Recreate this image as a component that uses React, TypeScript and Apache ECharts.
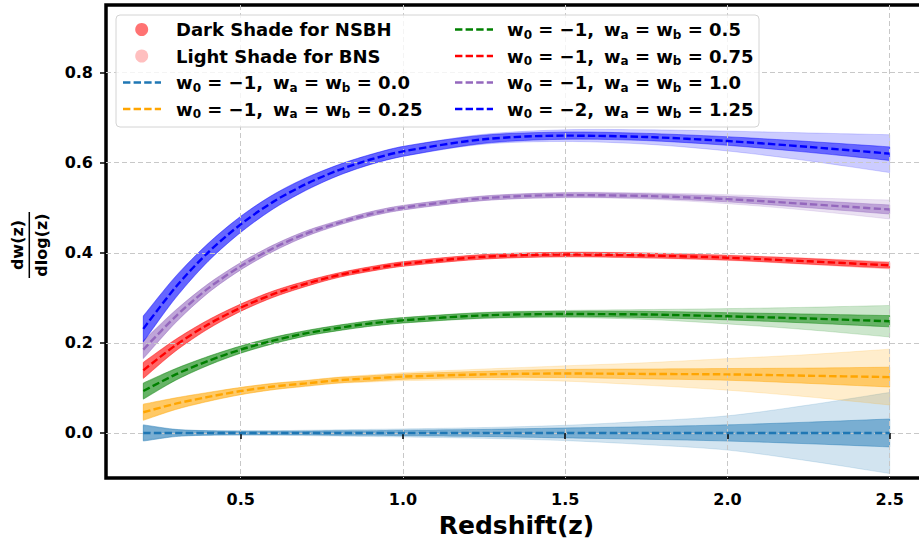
import React, { useEffect, useRef } from 'react';
import * as echarts from 'echarts';

const FONT = 'DejaVu Sans';

// Redshift sample points
const redshift = [0.2, 0.3, 0.4, 0.5, 0.6, 0.7, 0.8, 0.9, 1.0, 1.25, 1.5, 1.75, 2.0, 2.25, 2.5];
const xTicks = [0.5, 1.0, 1.5, 2.0, 2.5];
const yTicks = [0.0, 0.2, 0.4, 0.6, 0.8];

// Mean dw/dlog(z) curves
const mean00 = [0, 0, 0, 0, 0, 0, 0, 0, 0, 0, 0, 0, 0, 0, 0];
const mean025 = [0.046, 0.065, 0.080, 0.093, 0.103, 0.110, 0.117, 0.121, 0.125, 0.130, 0.132, 0.131, 0.130, 0.127, 0.124];
const mean05 = [0.093, 0.130, 0.160, 0.185, 0.205, 0.221, 0.233, 0.243, 0.250, 0.261, 0.264, 0.263, 0.259, 0.254, 0.248];
const mean075 = [0.139, 0.195, 0.241, 0.278, 0.308, 0.331, 0.350, 0.364, 0.375, 0.391, 0.396, 0.394, 0.389, 0.381, 0.372];
const mean10 = [0.185, 0.259, 0.321, 0.370, 0.410, 0.442, 0.466, 0.486, 0.500, 0.521, 0.528, 0.526, 0.519, 0.508, 0.496];
const mean125 = [0.231, 0.324, 0.401, 0.463, 0.513, 0.552, 0.583, 0.607, 0.625, 0.652, 0.660, 0.657, 0.648, 0.635, 0.620];

// Half-widths of the dark (NSBH) bands
const nsbh00 = [0.018, 0.008, 0.005, 0.004, 0.004, 0.004, 0.005, 0.005, 0.006, 0.008, 0.011, 0.014, 0.018, 0.024, 0.031];
const nsbh025 = [0.018, 0.013, 0.010, 0.008, 0.007, 0.006, 0.006, 0.006, 0.006, 0.007, 0.009, 0.011, 0.013, 0.017, 0.022];
const nsbh05 = [0.018, 0.013, 0.010, 0.008, 0.007, 0.006, 0.006, 0.006, 0.006, 0.006, 0.006, 0.007, 0.008, 0.010, 0.0125];
const nsbh075 = [0.018, 0.013, 0.010, 0.008, 0.007, 0.006, 0.005, 0.005, 0.005, 0.005, 0.005, 0.005, 0.005, 0.006, 0.006];
const nsbh10 = [0.020, 0.014, 0.010, 0.008, 0.007, 0.006, 0.005, 0.005, 0.005, 0.005, 0.005, 0.005, 0.006, 0.008, 0.010];
const nsbh125 = [0.029, 0.024, 0.020, 0.018, 0.016, 0.014, 0.012, 0.011, 0.011, 0.009, 0.008, 0.008, 0.0095, 0.012, 0.015];

// Half-widths of the light (BNS) bands
const bns00 = [0.016, 0.007, 0.005, 0.005, 0.005, 0.006, 0.007, 0.008, 0.009, 0.012, 0.017, 0.026, 0.038, 0.062, 0.090];
const bns025 = [0.016, 0.012, 0.009, 0.008, 0.007, 0.007, 0.007, 0.008, 0.009, 0.012, 0.017, 0.025, 0.035, 0.047, 0.062];
const bns05 = [0.016, 0.012, 0.009, 0.008, 0.007, 0.006, 0.006, 0.006, 0.006, 0.007, 0.008, 0.011, 0.017, 0.025, 0.035];
const bns075 = [0.016, 0.012, 0.009, 0.008, 0.007, 0.006, 0.005, 0.005, 0.005, 0.005, 0.005, 0.006, 0.006, 0.007, 0.008];
const bns10 = [0.018, 0.013, 0.010, 0.008, 0.007, 0.006, 0.005, 0.005, 0.005, 0.005, 0.006, 0.007, 0.010, 0.014, 0.021];
const bns125 = [0.027, 0.022, 0.019, 0.017, 0.015, 0.013, 0.012, 0.011, 0.011, 0.011, 0.013, 0.016, 0.022, 0.031, 0.042];

const modelW0 = ['1', '1', '1', '1', '1', '2'];
const modelWab = ['0.0', '0.25', '0.5', '0.75', '1.0', '1.25'];
const modelRgb = ['31,119,180', '255,165,0', '0,128,0', '255,0,0', '148,103,189', '0,0,255'];
const shadeLabels = ['Dark Shade for NSBH', 'Light Shade for BNS'];

const means = [mean00, mean025, mean05, mean075, mean10, mean125];
const darks = [nsbh00, nsbh025, nsbh05, nsbh075, nsbh10, nsbh125];
const lights = [bns00, bns025, bns05, bns075, bns10, bns125];

const SMOOTH = 0.3;

// Bezier-smooth a pixel polyline the same way ECharts' line smoothing does, sampled densely.
function smoothPixels(pts: number[][], s: number): number[][] {
  const n = pts.length;
  const cpIn: number[][] = [];
  const cpOut: number[][] = [];
  for (let i = 0; i < n; i++) {
    const p = pts[i];
    const prev = pts[i > 0 ? i - 1 : i];
    const next = pts[i < n - 1 ? i + 1 : i];
    const vx = next[0] - prev[0];
    const vy = next[1] - prev[1];
    const l0 = Math.hypot(p[0] - prev[0], p[1] - prev[1]);
    const l1 = Math.hypot(next[0] - p[0], next[1] - p[1]);
    const r = l0 + l1 > 0 ? l1 / (l0 + l1) : 0.5;
    cpIn.push([p[0] - vx * s * (1 - r), p[1] - vy * s * (1 - r)]);
    cpOut.push([p[0] + vx * s * r, p[1] + vy * s * r]);
  }
  const out: number[][] = [pts[0]];
  const steps = 10;
  for (let i = 0; i < n - 1; i++) {
    const a = pts[i], b = cpOut[i], c = cpIn[i + 1], d = pts[i + 1];
    for (let k = 1; k <= steps; k++) {
      const t = k / steps, u = 1 - t;
      out.push([
        u * u * u * a[0] + 3 * u * u * t * b[0] + 3 * u * t * t * c[0] + t * t * t * d[0],
        u * u * u * a[1] + 3 * u * u * t * b[1] + 3 * u * t * t * c[1] + t * t * t * d[1],
      ]);
    }
  }
  return out;
}

function bandSeries(mean: number[], half: number[], rgb: string, alpha: number) {
  const col = `rgba(${rgb},${alpha})`;
  const rows = redshift.map((z, i) => [z, +(mean[i] - half[i]).toFixed(5), +(mean[i] + half[i]).toFixed(5)]);
  return {
    type: 'custom',
    data: rows,
    encode: { x: 0, y: [1, 2] },
    clip: true,
    silent: true,
    z: -1,
    renderItem: (params: any, api: any) => {
      if (params.dataIndex !== 0) return null;
      const top = smoothPixels(rows.map((r) => api.coord([r[0], r[2]])), SMOOTH);
      const bot = smoothPixels(rows.map((r) => api.coord([r[0], r[1]])), SMOOTH).reverse();
      return {
        type: 'polygon',
        shape: { points: top.concat(bot) },
        style: { fill: col, stroke: col, lineWidth: 0.8 },
      };
    },
  };
}

function mathLabel(w0: string, wab: string) {
  return `{m|w}{s|0}{m| = −${w0}, \u2009w}{s|a}{m| = w}{s|b}{m| = ${wab}}`;
}

export default function App() {
  const ref = useRef<HTMLDivElement>(null);
  useEffect(() => {
    if (!ref.current) return;
    const chart = echarts.init(ref.current, undefined, { renderer: 'svg' });

    const series: any[] = [];
    means.forEach((m, i) => {
      series.push(bandSeries(m, lights[i], modelRgb[i], 0.2));
      series.push(bandSeries(m, darks[i], modelRgb[i], 0.5));
    });
    means.forEach((m, i) => {
      series.push({
        type: 'line',
        data: redshift.map((z, j) => [z, m[j]]),
        smooth: SMOOTH,
        symbol: 'none',
        showSymbol: false,
        silent: true,
        z: 3,
        lineStyle: { color: `rgb(${modelRgb[i]})`, width: 2.4, type: [7.4, 3.2] },
      });
    });

    const rich = {
      m: { fontSize: 18, fontWeight: 'bold', fontFamily: FONT, fill: '#000' },
      s: { fontSize: 12, fontWeight: 'bold', fontFamily: FONT, fill: '#000', padding: [10, 0, 0, 0] },
    };

    const rowY = [29.5, 56, 82.5, 109];
    const legendEls: any[] = [
      {
        type: 'rect',
        shape: { x: 116, y: 15, width: 643, height: 112, r: 4 },
        style: { fill: 'rgba(255,255,255,0.8)', stroke: '#d4d4d4', lineWidth: 1 },
        z: 10,
      },
    ];
    [0.55, 0.25].forEach((a, k) => {
      legendEls.push({
        type: 'circle',
        shape: { cx: 141.7, cy: rowY[k], r: 6.5 },
        style: { fill: `rgba(255,0,0,${a})` },
        z: 11,
      });
      legendEls.push({
        type: 'text',
        x: 176,
        y: rowY[k],
        style: { text: shadeLabels[k], fontSize: 18, fontWeight: 'bold', fontFamily: FONT, fill: '#000', verticalAlign: 'middle', align: 'left' },
        z: 11,
      });
    });
    modelWab.forEach((wab, i) => {
      const col = i < 2 ? 0 : 1;
      const row = i < 2 ? i + 2 : i - 2;
      const x1 = col === 0 ? 123 : 455;
      const tx = col === 0 ? 176 : 507;
      legendEls.push({
        type: 'line',
        shape: { x1, y1: rowY[row], x2: x1 + 38, y2: rowY[row] },
        style: { stroke: `rgb(${modelRgb[i]})`, lineWidth: 2.4, lineDash: [7.4, 3.2] },
        z: 11,
      });
      legendEls.push({
        type: 'text',
        x: tx,
        y: rowY[row],
        style: { text: mathLabel(modelW0[i], wab), rich, verticalAlign: 'middle', align: 'left' },
        z: 11,
      });
    });

    const yTitle = {
      type: 'group',
      x: 29.3,
      y: 245,
      rotation: Math.PI / 2,
      children: [
        {
          type: 'text',
          x: 0,
          y: -12,
          style: { text: 'dw(z)', fontSize: 16, fontWeight: 'bold', fontFamily: FONT, fill: '#000', align: 'center', verticalAlign: 'middle' },
        },
        {
          type: 'line',
          shape: { x1: -33, y1: 0, x2: 33, y2: 0 },
          style: { stroke: '#000', lineWidth: 1.5 },
        },
        {
          type: 'text',
          x: 0,
          y: 12,
          style: { text: 'dlog(z)', fontSize: 16, fontWeight: 'bold', fontFamily: FONT, fill: '#000', align: 'center', verticalAlign: 'middle' },
        },
      ],
    };

    const labelStyle = { fontSize: 16, fontWeight: 'bold', fontFamily: FONT, color: '#000' };
    const splitStyle = { show: true, lineStyle: { color: '#c8c8c8', width: 1, type: [5, 3] } };

    chart.setOption({
      animation: false,
      backgroundColor: '#fff',
      grid: { left: 106, top: 5, width: 821, height: 478, show: true, borderColor: '#000', borderWidth: 3.5, backgroundColor: 'transparent' },
      xAxis: {
        type: 'value',
        min: 0.085,
        max: 2.615,
        axisLine: { show: false },
        axisTick: { show: true, length: 6, lineStyle: { color: '#000', width: 1.5 }, customValues: xTicks },
        axisLabel: { ...labelStyle, margin: 13, customValues: xTicks, formatter: (v: number) => v.toFixed(1) },
        splitLine: { ...splitStyle, customValues: xTicks },
        name: 'Redshift(z)',
        nameLocation: 'middle',
        nameGap: 35,
        nameTextStyle: { fontSize: 25, fontWeight: 'bold', fontFamily: FONT, color: '#000' },
      },
      yAxis: {
        type: 'value',
        min: -0.1,
        max: 0.95,
        axisLine: { show: false },
        axisTick: { show: true, length: 6, lineStyle: { color: '#000', width: 1.5 }, customValues: yTicks },
        axisLabel: { ...labelStyle, margin: 13, customValues: yTicks, formatter: (v: number) => v.toFixed(1) },
        splitLine: { ...splitStyle, customValues: yTicks },
      },
      graphic: [yTitle, ...legendEls],
      series,
    });

    return () => chart.dispose();
  }, []);

  return (
    <div style={{ position: 'fixed', left: 0, top: 0, width: 919, height: 543, overflow: 'hidden', background: '#fff' }}>
      <div ref={ref} style={{ width: 940, height: 543 }} />
    </div>
  );
}
